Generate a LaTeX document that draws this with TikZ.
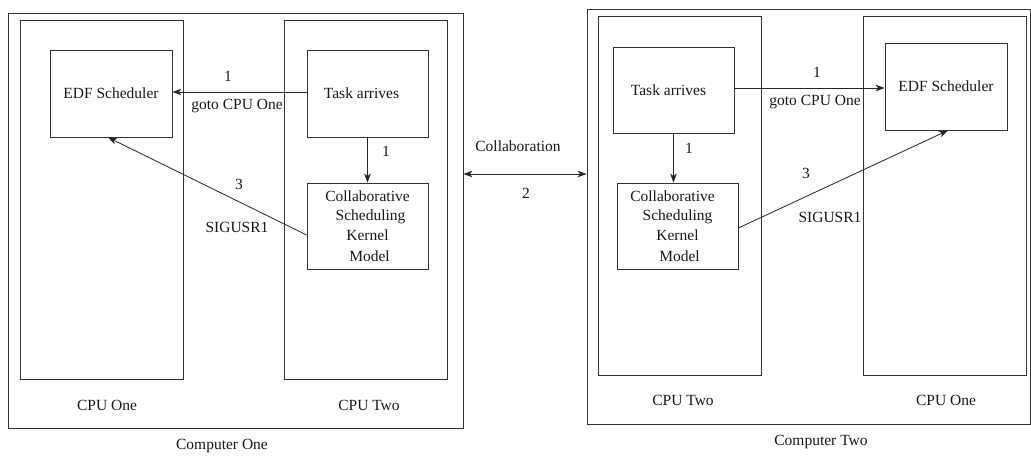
\documentclass[tikz,border=0pt]{standalone}
\usepackage{fontspec}
\setmainfont{Liberation Serif}
\usetikzlibrary{arrows.meta}
\begin{document}
\begin{tikzpicture}[x=1pt,y=-1pt,
  every node/.style={font=\fontsize{15.5}{19.5}\selectfont, text=black!90},
  box/.style={draw=black!80, line width=0.8pt, rectangle, inner sep=0pt, align=center},
  lbl/.style={inner sep=0pt},
  conn/.style={draw=black!85, line width=0.8pt, -{Stealth[length=9pt,width=6.5pt,inset=2.5pt]}},
  biconn/.style={draw=black!85, line width=0.8pt, {Stealth[length=9pt,width=6.5pt,inset=2.5pt]}-{Stealth[length=9pt,width=6.5pt,inset=2.5pt]}}]
\useasboundingbox (0,0) rectangle (1031,456);
% Computer One
\node[box, minimum width=455pt, minimum height=415pt] (outer1) at (235.5,220.5) {};
\node[box, minimum width=163pt, minimum height=359pt] (cpu1a) at (101.5,199.5) {};
\node[box, minimum width=163pt, minimum height=359pt] (cpu2a) at (365.5,199.5) {};
\node[box, minimum width=122pt, minimum height=87pt] (edf1) at (111,93.5) {EDF Scheduler};
\node[box, minimum width=121pt, minimum height=87pt] (task1) at (367.5,93.5) {\hspace*{-12pt}Task arrives};
\node[box, minimum width=121pt, minimum height=86pt] (col1) at (367.5,226) {Collaborative\\\hspace*{6pt}Scheduling\\Kernel\\[2pt]\hspace*{4pt}Model};
% Computer Two
\node[box, minimum width=443pt, minimum height=415pt] (outer2) at (808.5,216.5) {};
\node[box, minimum width=163pt, minimum height=359pt] (cpu2b) at (679.5,195.5) {};
\node[box, minimum width=163pt, minimum height=359pt] (cpu1b) at (944.5,195.5) {};
\node[box, minimum width=121pt, minimum height=86pt] (task2) at (673.5,90) {\hspace*{-10pt}Task arrives};
\node[box, minimum width=121pt, minimum height=86pt] (col2) at (677.5,226) {\hspace*{-10pt}Collaborative\\Scheduling\\Kernel\\[2pt]\hspace*{4pt}Model};
\node[box, minimum width=122pt, minimum height=87pt] (edf2) at (946,86.5) {EDF Scheduler};
% connectors left
\draw[conn] ([yshift=1.5pt]task1.west) -- ([yshift=1.5pt]edf1.east);
\draw[conn] (task1.south) -- (col1.north);
\draw[conn] ([yshift=-9pt]col1.west) -- ([xshift=-3pt]edf1.south);
% connectors right
\draw[conn] ([yshift=2pt]task2.east) -- ([yshift=2pt]task2.east -| edf2.west);
\draw[conn] (task2.south) -- (task2.south |- col2.north);
\draw[conn] ([yshift=-2pt]col2.east) -- ([xshift=2pt]edf2.south);
% collaboration
\draw[biconn] ([yshift=46.5pt]outer1.east) -- ([yshift=42.5pt]outer2.west);
% labels
\node[lbl] (l1a) at (228,76) {1};
\node[lbl] (g1) at (237,106) {goto CPU One};
\node[lbl] (l1b) at (386,151) {1};
\node[lbl] (l3a) at (239,184) {3};
\node[lbl] (s1) at (237,227) {SIGUSR1};
\node[lbl] (c1a) at (107,405) {CPU One};
\node[lbl] (c2a) at (369,405) {CPU Two};
\node[lbl] (comp1) at (222,446) {Computer One};
\node[lbl] (colab) at (518,146) {Collaboration};
\node[lbl] (two) at (526,193) {2};
\node[lbl] (r1a) at (817,72) {1};
\node[lbl] (g2) at (815,102) {goto CPU One};
\node[lbl] (r1b) at (689,148) {1};
\node[lbl] (r3) at (806,173) {3};
\node[lbl] (s2) at (830,217) {SIGUSR1};
\node[lbl] (c2b) at (683,400) {CPU Two};
\node[lbl] (c1b) at (946,400) {CPU One};
\node[lbl] (comp2) at (821,442) {Computer Two};
\end{tikzpicture}
\end{document}
